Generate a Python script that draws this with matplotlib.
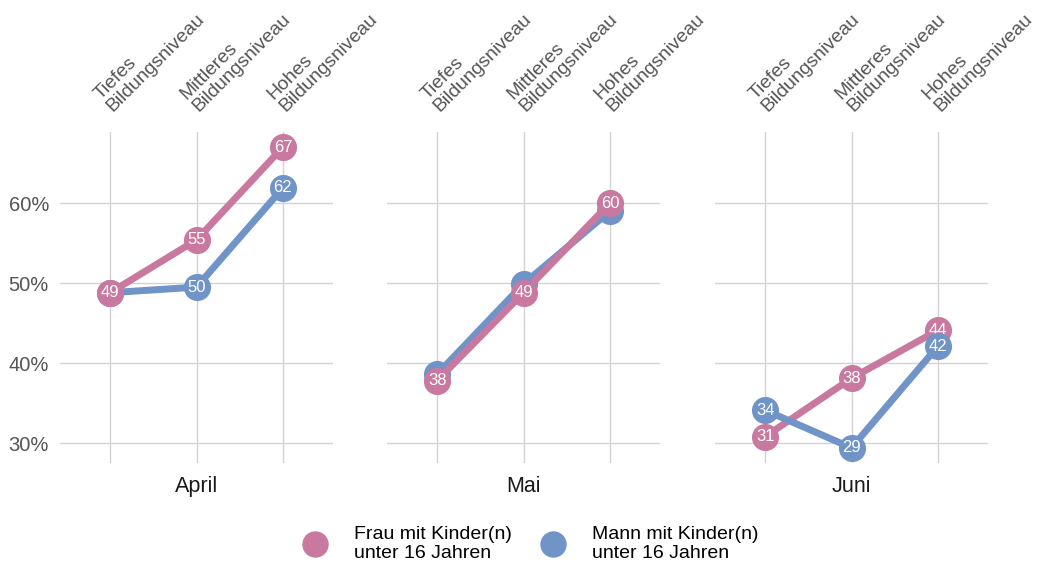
import numpy as np
import matplotlib
matplotlib.use('Agg')
import matplotlib.pyplot as plt
import matplotlib.transforms as mtransforms
from matplotlib.lines import Line2D

plt.rcParams['font.family'] = ['Liberation Sans', 'DejaVu Sans']

months = ['April', 'Mai', 'Juni']
levels = ['Tiefes\nBildungsniveau', 'Mittleres\nBildungsniveau', 'Hohes\nBildungsniveau']
frau = [[48.8, 55.4, 67.0], [37.8, 48.8, 60.0], [30.8, 38.1, 44.1]]
mann = [[48.8, 49.5, 61.9], [38.6, 49.9, 59.0], [34.1, 29.4, 42.1]]
frau_top = [True, True, False]   # which series sits on top in each panel
mann_labels = [True, False, True]  # Mai labels are hidden under the pink dots
yticks = [30, 40, 50, 60]

pink = '#C9799F'
blue = '#7094C8'
grid_c = '#D3D3D3'
txt_grey = '#555555'

fig = plt.figure(figsize=(10.45, 5.69), dpi=100)
lefts = [60, 387, 715]
x = np.arange(1, 4)
for i, m in enumerate(months):
    ax = fig.add_axes([lefts[i] / 1045, 1 - 463 / 569, 273 / 1045, 331 / 569])
    ax.set_xlim(0.42, 3.58)
    ax.set_ylim(27.5, 68.9)
    for s in ax.spines.values():
        s.set_visible(False)
    ax.set_yticks(yticks)
    ax.set_xticks(x)
    ax.grid(True, color=grid_c, linewidth=1)
    ax.set_axisbelow(True)
    ax.tick_params(length=0, labelbottom=False)
    # category labels on top, rotated
    base = mtransforms.blended_transform_factory(ax.transData, ax.transAxes)
    shift = mtransforms.ScaledTranslation(5 / 100, 17 / 100, fig.dpi_scale_trans)
    for xx, lab in zip(x, levels):
        ax.text(xx, 1.0, lab, transform=base + shift, rotation=45,
                rotation_mode='anchor', ha='left', va='bottom',
                fontsize=13.9, color=txt_grey, linespacing=1.0)
    if i == 0:
        ax.set_yticklabels([f'{v}%' for v in yticks], fontsize=14.5, color=txt_grey)
        ax.tick_params(axis='y', pad=8)
    else:
        ax.set_yticklabels([])
    ax.text(0.5, -0.04, m, transform=ax.transAxes, ha='center', va='top',
            fontsize=15.5, color='#1a1a1a')
    zf, zm = (4, 3) if frau_top[i] else (3, 4)
    series = [(frau[i], pink, zf, True), (mann[i], blue, zm, mann_labels[i])]
    for vals, col, z, show in series:
        ax.plot(x, vals, color=col, linewidth=5, marker='o', markersize=18.5,
                solid_capstyle='round', zorder=z, clip_on=False)
        if not show:
            continue
        for xx, v in zip(x, vals):
            ax.text(xx, v, f'{round(v)}', color='white', ha='center',
                    va='center', fontsize=12, zorder=z + 0.5)

handles = [Line2D([], [], linestyle='none', marker='o', markersize=18, color=pink),
           Line2D([], [], linestyle='none', marker='o', markersize=18, color=blue)]
fig.legend(handles, ['Frau mit Kinder(n)\nunter 16 Jahren', 'Mann mit Kinder(n)\nunter 16 Jahren'],
           loc='center', bbox_to_anchor=(527 / 1045, 1 - 544 / 569), ncol=2,
           frameon=False, fontsize=14, handletextpad=1.0, columnspacing=1.1,
           labelspacing=0.2)

fig.savefig('out.png', dpi=100)
